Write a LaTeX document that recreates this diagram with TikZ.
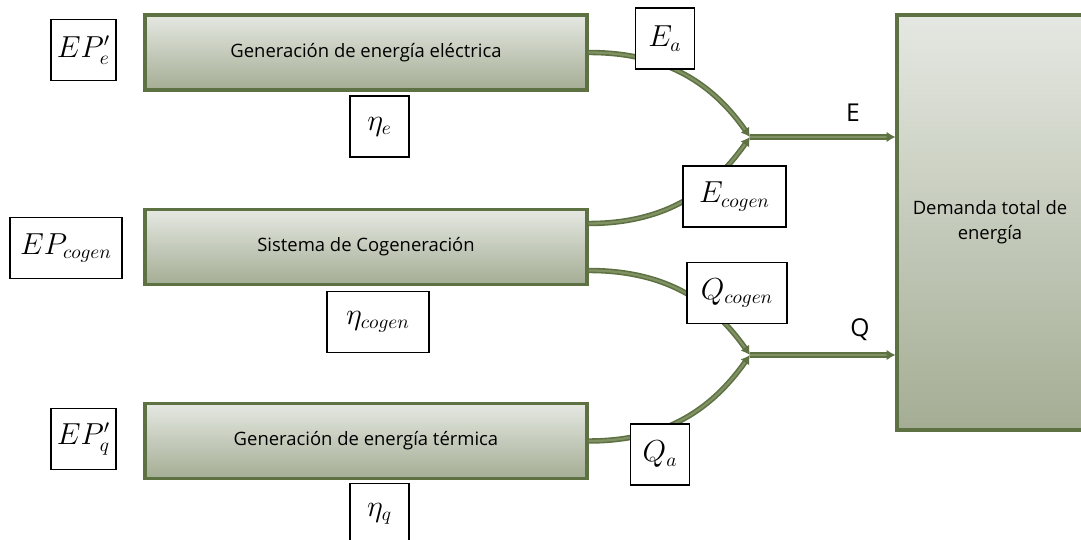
\documentclass[tikz,border=0pt]{standalone}
\usepackage{fontspec}
\setmainfont{Open Sans}
\usetikzlibrary{arrows.meta,calc,positioning}
\definecolor{olivebd}{RGB}{94,113,66}
\definecolor{olivein}{RGB}{128,145,100}
\definecolor{shtop}{RGB}{229,232,226}
\definecolor{shbot}{RGB}{164,173,148}

\begin{document}
\begin{tikzpicture}[>={Latex[length=5pt,width=6pt]},
  proc/.style={draw=olivebd, line width=1.8pt, top color=shtop, bottom color=shbot, minimum width=8.84cm, minimum height=1.5cm, font=\fontsize{10.5}{14}\selectfont},
  var/.style={draw, fill=white, line width=0.8pt, minimum width=1.18cm, minimum height=1.22cm, font=\fontsize{16}{19}\selectfont},
  flow/.style={->, draw=olivebd, line width=0.9pt, double=olivein, double distance=1.3pt},
  lbl/.style={font=\fontsize{14}{16}\selectfont}]
  \useasboundingbox (0,0) rectangle (21.62,10.8);
  \node[proc] (elec) at (7.32,9.75) {Generación de energía eléctrica};
  \node[proc] (cog) at (7.32,5.86) {Sistema de Cogeneración};
  \node[proc] (term) at (7.32,1.98) {Generación de energía térmica};
  \node[proc, minimum width=3.72cm, minimum height=8.3cm, align=center] (dem) at (19.8,6.35) {Demanda total de\\energía};
  \coordinate (jE) at (15.0,8.06);
  \coordinate (jQ) at (15.0,3.7);
  \draw[flow] (elec.east) to[out=0,in=125] (jE);
  \draw[flow] ([yshift=0.47cm]cog.east) to[out=0,in=-125] (jE);
  \draw[flow] ([yshift=-0.47cm]cog.east) to[out=0,in=125] (jQ);
  \draw[flow] (term.east) to[out=0,in=-125] (jQ);
  \draw[flow] (jE) -- (jE -| dem.west);
  \draw[flow] (jQ) -- (jQ -| dem.west);
  \node[lbl] (eLbl) at (17.06,8.54) {E};
  \node[lbl] (qLbl) at (17.2,4.2) {Q};
  \node[var] (epe) at (1.67,9.8) {$EP_e^{\prime}$};
  \node[var] (etae) at (7.59,8.27) {$\eta_e$};
  \node[var] (ea) at (13.3,10.03) {$E_a$};
  \node[var, minimum width=2.06cm] (ecog) at (14.69,6.87) {$E_{cogen}$};
  \node[var, minimum width=2.24cm] (epcog) at (1.32,5.84) {$EP_{cogen}$};
  \node[var, minimum width=2.04cm] (etacog) at (7.56,4.36) {$\eta_{cogen}$};
  \node[var, minimum width=2.0cm] (qcog) at (14.74,4.94) {$Q_{cogen}$};
  \node[var] (epq) at (1.67,2.02) {$EP_q^{\prime}$};
  \node[var] (qa) at (13.2,1.71) {$Q_a$};
  \node[var] (etaq) at (7.59,0.52) {$\eta_q$};
\end{tikzpicture}
\end{document}
